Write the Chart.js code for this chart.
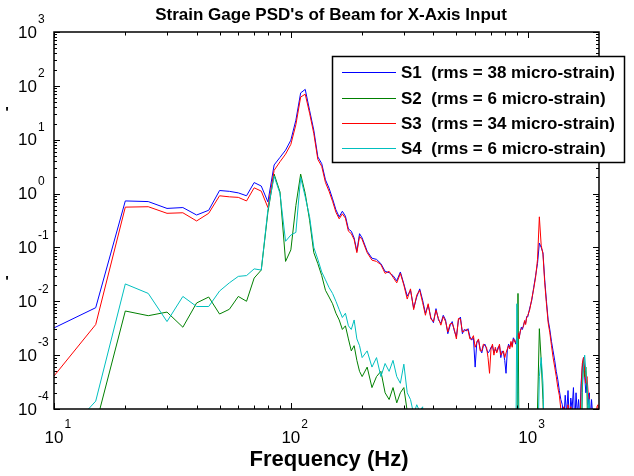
<!DOCTYPE html>
<html>
<head>
<meta charset="utf-8">
<script src="https://cdn.jsdelivr.net/npm/chart.js@4.4.0/dist/chart.umd.min.js"></script>
<style>
    html, body { margin: 0; padding: 0; background: #fff; }
    #wrap { width: 634px; height: 476px; }
</style>
</head>
<body>
<div id="wrap"><canvas id="psd" width="634" height="476"></canvas></div>
<script>
// frequency grid (Hz)
const freqLow = [10, 15, 20, 25, 30, 35, 40, 45, 50, 55, 60, 65, 70, 75, 80, 85, 90, 95, 100,
    105, 110, 115, 120, 125, 130, 135, 140, 145, 150, 155, 160, 165, 170, 175, 180, 185, 190, 195, 200];
const freqMid = [210, 220, 230, 240, 250, 260, 270, 280, 290, 300, 310, 320, 330, 340, 350, 360,
    370, 380, 390, 400, 410, 420, 430, 440, 450, 460, 470, 480, 490, 500, 510, 520, 530, 540, 550,
    560, 570, 580, 590, 600, 610, 620, 630, 640, 650, 660, 670, 680, 690, 700, 710, 720, 730, 740,
    750, 760, 770, 780, 790, 800, 810, 820, 830, 840, 850, 860, 870, 880, 890, 900, 910, 920, 930,
    940, 950, 960, 970, 980, 990, 1000];
const freqHigh = [1020, 1040, 1060, 1080, 1100, 1120, 1140, 1160, 1180, 1200, 1220, 1240, 1260,
    1280, 1300, 1320, 1340, 1360, 1380, 1400, 1420, 1440, 1460, 1480, 1500, 1520, 1540, 1560, 1580,
    1600, 1620, 1640, 1660, 1680, 1700, 1720, 1740, 1760, 1780, 1800, 1820, 1840, 1860, 1880, 1900,
    1920, 1940, 1960, 1980, 2000];

// S1
const s1Low = [0.0032, 0.0076, 0.73, 0.71, 0.53, 0.55, 0.40, 0.49, 1.14, 1.10, 1.03, 0.91, 1.6, 1.38,
    0.7, 3.4, 4.7, 6.4, 9.8, 23, 74, 86, 35, 15, 4.8, 3.6, 1.8, 1.26, 0.8, 0.5, 0.37, 0.47, 0.38,
    0.22, 0.2, 0.15, 0.085, 0.18, 0.15];
const s1Mid = [0.085, 0.063, 0.06, 0.05, 0.036, 0.034, 0.03, 0.024, 0.035, 0.021, 0.0125, 0.016,
    0.0075, 0.012, 0.017, 0.0105, 0.006, 0.0085, 0.005, 0.004, 0.0073, 0.0045, 0.0039, 0.0055,
    0.0045, 0.0025, 0.0035, 0.0042, 0.0028, 0.0022, 0.0045, 0.0051, 0.0025, 0.003, 0.0028, 0.0031,
    0.0022, 0.0019, 0.0021, 0.0006, 0.0018, 0.0019, 0.0013, 0.0011, 0.0015, 0.0016, 0.0013, 0.0011,
    0.0012, 0.0014, 0.0015, 0.0011, 0.0013, 0.00115, 0.0014, 0.0015, 0.0009, 0.0012, 0.0011, 0.0008,
    0.00046, 0.0012, 0.0016, 0.0014, 0.0017, 0.0015, 0.0021, 0.0019, 0.0016, 0.0022, 0.0025, 0.0021,
    0.0027, 0.0033, 0.003, 0.0036, 0.0042, 0.0039, 0.0052, 0.0051];
const s1High = [0.0075, 0.0104, 0.018, 0.03, 0.05, 0.12, 0.1, 0.08, 0.025, 0.01, 0.0045, 0.003,
    0.0018, 0.0012, 0.0008, 0.0005, 0.00035, 0.00022, 0.00015, 0.00012, 0.00006, 0.00018, 0.00008,
    0.00022, 0.00005, 0.00016, 0.0001, 0.00025, 0.00005, 0.0002, 0.00008, 0.00015, 0.00006, 0.0003,
    0.0006, 0.0009, 0.0004, 0.0002, 0.0003, 0.00012, 0.0002, 0.00006, 0.00015, 0.00008, 0.00004,
    0.00003, 0.00003, 0.00002, 0.00002, 0.00002];

// S3
const s3Low = [0.00041, 0.0037, 0.56, 0.57, 0.43, 0.44, 0.31, 0.43, 0.91, 0.87, 0.85, 0.73, 1.28,
    1.11, 0.55, 2.7, 3.9, 5.4, 8.2, 19, 62, 70, 31, 13, 4.3, 3.2, 1.6, 1.1, 0.72, 0.45, 0.34, 0.42,
    0.35, 0.2, 0.18, 0.14, 0.08, 0.16, 0.14];
const s3Mid = [0.08, 0.058, 0.055, 0.048, 0.033, 0.036, 0.028, 0.022, 0.033, 0.02, 0.011, 0.017,
    0.007, 0.013, 0.016, 0.0095, 0.0055, 0.009, 0.0047, 0.0042, 0.0068, 0.0048, 0.0036, 0.0052,
    0.0042, 0.0027, 0.0038, 0.0039, 0.003, 0.002, 0.0048, 0.0047, 0.0027, 0.0028, 0.003, 0.0029,
    0.002, 0.002, 0.0023, 0.0014, 0.0017, 0.002, 0.0012, 0.0012, 0.0016, 0.0015, 0.0014, 0.0009,
    0.00046, 0.0013, 0.0016, 0.001, 0.0014, 0.0011, 0.0013, 0.0016, 0.001, 0.0011, 0.0012, 0.0009,
    0.0011, 0.0013, 0.0015, 0.0013, 0.0018, 0.0014, 0.002, 0.0018, 0.0017, 0.0021, 0.0026, 0.002,
    0.0028, 0.0031, 0.0032, 0.0034, 0.0044, 0.0037, 0.005, 0.0054];
const s3High = [0.007, 0.011, 0.017, 0.028, 0.06, 0.37, 0.11, 0.075, 0.022, 0.009, 0.004, 0.0026,
    0.0015, 0.0009, 0.0006, 0.0004, 0.00025, 0.00018, 0.0001, 0.00006, 0.00011, 0.00004, 0.00003,
    0.00012, 0.00003, 0.00011, 0.00003, 0.00002, 0.00002, 0.00003, 0.00002, 0.00003, 0.00005, 0.0002,
    0.0007, 0.0009, 0.0005, 0.0003, 0.0004, 0.0002, 0.00015, 0.00005, 0.00003, 0.00002, 0.00002,
    0.00002, 0.00003, 0.00011, 0.00012, 0.00003];

// S2 (values under 1e-4 fall below the axis)
const s2Low = [0.00001, 0.00005, 0.0066, 0.0054, 0.0063, 0.0033, 0.0093, 0.012, 0.0058, 0.0071,
    0.0123, 0.01, 0.027, 0.038, 0.45, 2.3, 1.07, 0.055, 0.09, 0.6, 2.3, 1.0, 0.32, 0.08, 0.05, 0.03,
    0.016, 0.012, 0.009, 0.006, 0.0045, 0.003, 0.0035, 0.002, 0.0012, 0.0015, 0.0008, 0.0005, 0.0004];
const s2FreqTail = [210, 220, 230, 240, 250, 260, 270, 280, 290, 300, 310, 320, 890, 900, 910, 920,
    1090, 1100, 1120, 1140, 1160, 1180, 1680, 1700, 1720, 1740, 1760, 1780, 1800, 2000];
const s2Tail = [0.0006, 0.00025, 0.0004, 0.0005, 0.0002, 0.00015, 0.00025, 0.00013, 0.0002, 0.00025,
    0.00009, 0.00001, 0.00001, 0.00001, 0.014, 0.00001, 0.00001, 0.0001, 0.0031, 0.0008, 0.00015,
    0.00001, 0.00001, 0.0002, 0.0008, 0.0004, 0.0006, 0.0002, 0.00001, 0.00001];

// S4
const s4Low = [0.00002, 0.00014, 0.021, 0.014, 0.0042, 0.0123, 0.008, 0.008, 0.0155, 0.022, 0.029,
    0.03, 0.04, 0.038, 0.5, 2.1, 1.0, 0.13, 0.17, 0.19, 2.0, 0.87, 0.37, 0.1, 0.06, 0.035, 0.025,
    0.018, 0.014, 0.01, 0.007, 0.005, 0.006, 0.0035, 0.003, 0.0045, 0.002, 0.0015, 0.0009];
const s4FreqTail = [210, 220, 230, 240, 250, 260, 270, 280, 290, 300, 310, 320, 330, 340, 350, 360,
    370, 880, 890, 900, 910, 920, 1100, 1120, 1140, 1160, 1180, 1680, 1700, 1720, 1740, 1760, 1780,
    1800, 1820, 1840, 2000];
const s4Tail = [0.0012, 0.0006, 0.0009, 0.0004, 0.0007, 0.0005, 0.0008, 0.0004, 0.0003, 0.00068,
    0.0002, 0.00015, 0.00008, 0.00012, 0.00009, 0.00011, 0.00001, 0.00001, 0.00001, 0.009, 0.0002,
    0.00001, 0.00001, 0.0004, 0.0009, 0.0003, 0.00001, 0.00001, 0.0003, 0.0006, 0.001, 0.0005,
    0.0003, 0.0001, 0.00015, 0.00001, 0.00001];

const seriesNames = ['S1  (rms = 38 micro-strain)', 'S2  (rms = 6 micro-strain)',
    'S3  (rms = 34 micro-strain)', 'S4  (rms = 6 micro-strain)'];
const seriesColors = ['#0000ff', '#008000', '#ff0000', '#00bfbf'];

const xTickExp = [1, 2, 3];
const yTickExp = [-4, -3, -2, -1, 0, 1, 2, 3];

const FONT = '"Liberation Sans", Arial, sans-serif';

function toPoints(freqs, vals) {
    return freqs.map((f, i) => ({ x: f, y: vals[i] }));
}

const freqAll = freqLow.concat(freqMid, freqHigh);
const seriesPoints = [
    toPoints(freqAll, s1Low.concat(s1Mid, s1High)),
    toPoints(freqLow.concat(s2FreqTail), s2Low.concat(s2Tail)),
    toPoints(freqAll, s3Low.concat(s3Mid, s3High)),
    toPoints(freqLow.concat(s4FreqTail), s4Low.concat(s4Tail)),
];

function drawPow(ctx, x, y, exp, align) {
    ctx.fillStyle = '#000';
    ctx.textBaseline = 'middle';
    ctx.font = '17px ' + FONT;
    const w = ctx.measureText('10').width;
    let left = align === 'right' ? x - w : x - w / 2;
    ctx.textAlign = 'left';
    ctx.fillText('10', left, y);
    ctx.font = '12px ' + FONT;
    ctx.fillText(String(exp), left + w + 1, y - 13);
}

const axesPlugin = {
    id: 'matlabAxes',
    afterDatasetsDraw(chart) {
        const ctx = chart.ctx;
        const ca = chart.chartArea;
        const xs = chart.scales.x;
        const ys = chart.scales.y;
        ctx.save();
        ctx.strokeStyle = '#000';
        ctx.lineWidth = 1;

        // x ticks, bottom and top
        ctx.beginPath();
        for (let d = 1; d <= 3; d++) {
            for (let m = 1; m <= 9; m++) {
                const f = m * Math.pow(10, d);
                if (f >= 2000) break;
                const px = Math.round(xs.getPixelForValue(f)) + 0.5;
                const len = m === 1 ? 6 : 3.5;
                ctx.moveTo(px, ca.bottom);
                ctx.lineTo(px, ca.bottom - len);
                ctx.moveTo(px, ca.top);
                ctx.lineTo(px, ca.top + len);
            }
        }
        // y ticks, left and right
        for (let d = -4; d <= 3; d++) {
            for (let m = 1; m <= 9; m++) {
                if (d === 3 && m > 1) break;
                const v = m * Math.pow(10, d);
                const py = Math.round(ys.getPixelForValue(v)) + 0.5;
                const len = m === 1 ? 6 : 3;
                ctx.moveTo(ca.left, py);
                ctx.lineTo(ca.left + len, py);
                ctx.moveTo(ca.right, py);
                ctx.lineTo(ca.right - len, py);
            }
        }
        ctx.stroke();

        ctx.lineWidth = 1.5;
        ctx.strokeRect(ca.left, ca.top, ca.right - ca.left, ca.bottom - ca.top);

        // tick labels
        yTickExp.forEach((e) => {
            drawPow(ctx, 37, ys.getPixelForValue(Math.pow(10, e)) + 1, e, 'right');
        });
        xTickExp.forEach((e) => {
            drawPow(ctx, xs.getPixelForValue(Math.pow(10, e)), 438, e, 'center');
        });

        // title and axis label
        ctx.fillStyle = '#000';
        ctx.textAlign = 'center';
        ctx.textBaseline = 'middle';
        ctx.font = 'bold 17px ' + FONT;
        ctx.fillText("Strain Gage PSD's of Beam for X-Axis Input", 331, 15);
        ctx.font = 'bold 22px ' + FONT;
        ctx.fillText('Frequency (Hz)', 329, 460);
        ctx.font = 'bold 15px ' + FONT;
        ctx.fillText("'", 7, 113);
        ctx.fillText("'", 7, 282);

        // legend
        const lx = 332.5, ly = 56.5, lw = 292, lh = 106;
        ctx.fillStyle = '#fff';
        ctx.fillRect(lx, ly, lw, lh);
        ctx.lineWidth = 1.5;
        ctx.strokeStyle = '#000';
        ctx.strokeRect(lx, ly, lw, lh);
        const rows = [72, 98, 123, 148];
        ctx.font = 'bold 17px ' + FONT;
        ctx.textAlign = 'left';
        rows.forEach((ry, i) => {
            ctx.strokeStyle = seriesColors[i];
            ctx.lineWidth = 1;
            ctx.beginPath();
            ctx.moveTo(342, ry + 0.5);
            ctx.lineTo(396, ry + 0.5);
            ctx.stroke();
            ctx.fillStyle = '#000';
            ctx.fillText(seriesNames[i], 401, ry + 1);
        });
        ctx.restore();
    },
};

new Chart(document.getElementById('psd'), {
    type: 'line',
    data: {
        datasets: seriesPoints.map((pts, i) => ({
            label: seriesNames[i],
            data: pts,
            borderColor: seriesColors[i],
            backgroundColor: seriesColors[i],
            borderWidth: 1,
            pointRadius: 0,
            tension: 0,
            fill: false,
            order: 4 - i,
        })),
    },
    options: {
        responsive: false,
        animation: false,
        devicePixelRatio: 1,
        layout: { padding: { left: 54, top: 32, right: 35, bottom: 67 } },
        plugins: {
            legend: { display: false },
            tooltip: { enabled: false },
        },
        scales: {
            x: { type: 'logarithmic', min: 10, max: 2000, display: false },
            y: { type: 'logarithmic', min: 1e-4, max: 1e3, display: false },
        },
    },
    plugins: [axesPlugin],
});
</script>
</body>
</html>
